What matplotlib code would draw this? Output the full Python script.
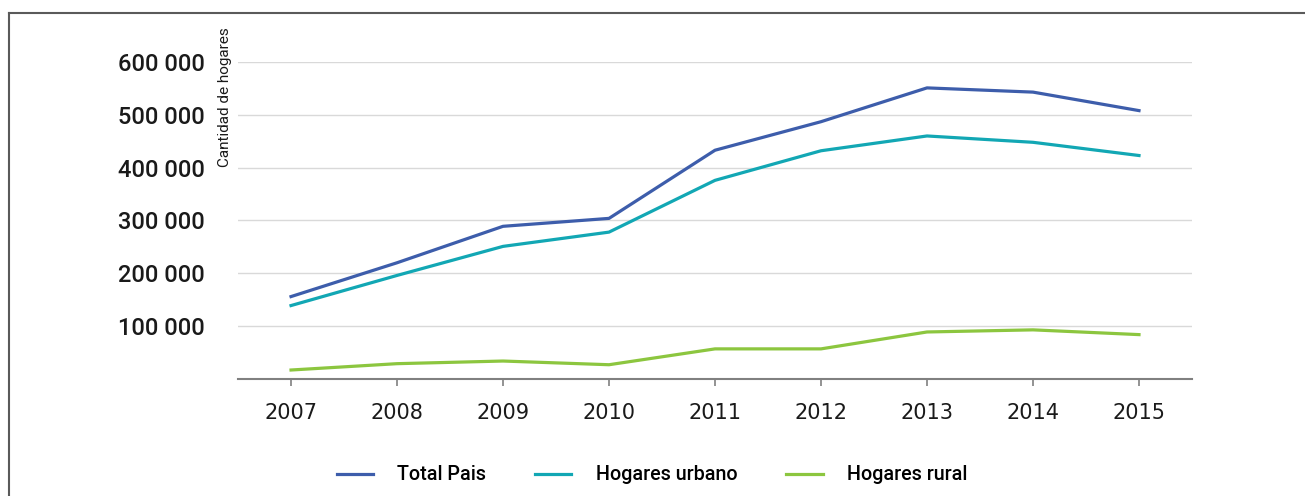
import matplotlib.pyplot as plt
from matplotlib.lines import Line2D
from matplotlib.ticker import FuncFormatter

years = ['2007', '2008', '2009', '2010', '2011', '2012', '2013', '2014', '2015']
total_pais = [156000, 220000, 289000, 304000, 433000, 487000, 551000, 543000, 508000]
hogares_urbano = [139000, 196000, 251000, 278000, 376000, 432000, 460000, 448000, 423000]
hogares_rural = [17000, 29000, 34000, 27000, 57000, 57000, 89000, 93000, 84000]

plt.rcParams['font.family'] = ['Roboto', 'DejaVu Sans']

fig = plt.figure(figsize=(13.05, 4.96), dpi=100)
ax = fig.add_axes([0.1824, 0.2359, 0.7310, 0.6391])

x = range(len(years))
ax.plot(x, total_pais, color='#3D5DAB', lw=2.3, label='Total Pais')
ax.plot(x, hogares_urbano, color='#12A7B4', lw=2.3, label='Hogares urbano')
ax.plot(x, hogares_rural, color='#8CC63F', lw=2.3, label='Hogares rural')

ax.set_xlim(-0.5, len(years) - 0.5)
ax.set_ylim(0, 600000)
ax.set_yticks([100000, 200000, 300000, 400000, 500000, 600000])
ax.yaxis.set_major_formatter(FuncFormatter(lambda v, p: f'{int(v):,}'.replace(',', ' ')))
ax.grid(axis='y', color='#D9D9D9', lw=1)
ax.set_axisbelow(True)
for s in ['left', 'right', 'top']:
    ax.spines[s].set_visible(False)
ax.spines['bottom'].set_color('#808080')
ax.spines['bottom'].set_linewidth(1.5)

ax.set_xticks(list(x))
ax.set_xticklabels(years, family='DejaVu Sans', fontsize=15)
ax.tick_params(axis='x', length=5, color='#808080', width=1.2, pad=12, labelcolor='#1a1a1a')
ax.tick_params(axis='y', length=0, pad=24, labelsize=17, labelcolor='#1a1a1a')
for lbl in ax.get_yticklabels():
    lbl.set_fontweight('medium')

fig.text(225 / 1305, 1 - 27 / 496, 'Cantidad de hogares', rotation=90,
         ha='center', va='top', fontsize=11, color='#1a1a1a')

fig.legend(loc='center', bbox_to_anchor=(0.4996, 1 - 475 / 496), ncol=3, frameon=False,
           prop={'size': 14.2, 'weight': 'medium'}, handlelength=1.83,
           handletextpad=1.22, columnspacing=2.5)

# frame lines around the figure
fig.add_artist(Line2D([9 / 1305, 9 / 1305], [0, 1 - 13 / 496], color='#5a5a5a', lw=1.5))
fig.add_artist(Line2D([9 / 1305, 1], [1 - 13 / 496, 1 - 13 / 496], color='#5a5a5a', lw=1.5))

fig.savefig('out.png', dpi=100)
